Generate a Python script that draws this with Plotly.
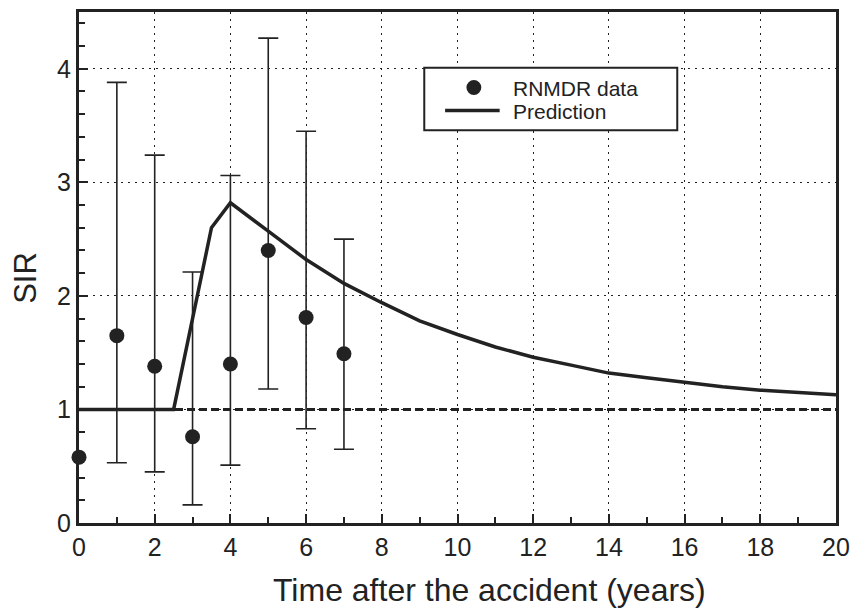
import plotly.graph_objects as go

# Data
years = [0, 1, 2, 3, 4, 5, 6, 7]
sir = [0.58, 1.65, 1.38, 0.76, 1.40, 2.40, 1.81, 1.49]
# confidence limits (no bar for year 0)
err_years = [1, 2, 3, 4, 5, 6, 7]
err_sir = [1.65, 1.38, 0.76, 1.40, 2.40, 1.81, 1.49]
upper = [3.88, 3.24, 2.21, 3.06, 4.27, 3.45, 2.50]
lower = [0.53, 0.45, 0.16, 0.51, 1.18, 0.83, 0.65]

pred_x = [0, 2.5, 3.5, 4, 5, 6, 7, 8, 9, 10, 11, 12, 13, 14, 15, 16, 17, 18, 19, 20]
pred_y = [1.0, 1.0, 2.6, 2.82, 2.57, 2.32, 2.11, 1.94, 1.78, 1.66, 1.55, 1.46, 1.39, 1.32,
          1.28, 1.24, 1.20, 1.17, 1.15, 1.13]

ref_x = [0, 20]
ref_y = [1.0, 1.0]

legend_labels = ["RNMDR data", "Prediction"]

err_plus = [u - v for u, v in zip(upper, err_sir)]
err_minus = [v - l for l, v in zip(lower, err_sir)]

ink = "#222222"
font = "Liberation Sans, Arial, sans-serif"

# plot area in pixels (for placing layout decorations)
W, H = 859, 608
L, R, T, B = 79, 17, 9, 85
PW, PH = W - L - R, H - T - B


def px(x):
    return (x - L) / PW


def py(y):
    return (H - B - y) / PH


fig = go.Figure()
fig.add_trace(go.Scatter(
    x=ref_x, y=ref_y, mode="lines", showlegend=False,
    line=dict(color=ink, width=3, dash="8px,4px"), hoverinfo="skip"))
fig.add_trace(go.Scatter(
    x=err_years, y=err_sir, mode="markers", showlegend=False,
    marker=dict(color=ink, size=15, opacity=0), hoverinfo="skip",
    error_y=dict(type="data", symmetric=False, array=err_plus, arrayminus=err_minus,
                 color=ink, thickness=1.6, width=10)))
fig.add_trace(go.Scatter(
    x=pred_x, y=pred_y, mode="lines", name=legend_labels[1], showlegend=False,
    line=dict(color=ink, width=3.5)))
fig.add_trace(go.Scatter(
    x=years, y=sir, mode="markers", name=legend_labels[0], cliponaxis=False, showlegend=False,
    marker=dict(color=ink, size=15)))

axis_common = dict(
    showline=True, linecolor=ink, linewidth=3, mirror=True,
    ticks="inside", ticklen=9, tickwidth=2, tickcolor=ink,
    showgrid=True, gridcolor=ink, gridwidth=1.3, griddash="2px,5px",
    zeroline=False,
    tickfont=dict(family=font, size=25, color=ink),
)

# legend drawn as layout decoration (box, symbol samples, labels)
shapes = [
    dict(type="rect", xref="paper", yref="paper",
         x0=px(427), x1=px(682), y0=py(128), y1=py(65),
         line=dict(color=ink, width=2), fillcolor="white", layer="above"),
    dict(type="circle", xref="paper", yref="paper",
         x0=px(469.5), x1=px(484.5), y0=py(92.5), y1=py(77.5),
         line=dict(color=ink, width=0), fillcolor=ink, layer="above"),
    dict(type="line", xref="paper", yref="paper",
         x0=px(448), x1=px(503), y0=py(108), y1=py(108),
         line=dict(color=ink, width=3.5), layer="above"),
]

annotations = [
    dict(text="Time after the accident (years)", xref="paper", yref="paper",
         x=px(493), y=py(590), xanchor="center", yanchor="middle",
         showarrow=False, font=dict(family=font, size=32, color=ink)),
    dict(text="SIR", xref="paper", yref="paper", textangle=-90,
         x=px(25), y=py(276), xanchor="center", yanchor="middle",
         showarrow=False, font=dict(family=font, size=31, color=ink)),
    dict(text=legend_labels[0], xref="paper", yref="paper",
         x=px(514), y=py(86), xanchor="left", yanchor="middle",
         showarrow=False, font=dict(family=font, size=21, color=ink)),
    dict(text=legend_labels[1], xref="paper", yref="paper",
         x=px(514), y=py(109), xanchor="left", yanchor="middle",
         showarrow=False, font=dict(family=font, size=21, color=ink)),
]

fig.update_layout(
    width=W, height=H,
    margin=dict(l=L, r=R, t=T, b=B),
    paper_bgcolor="white", plot_bgcolor="white",
    font=dict(family=font, color=ink),
    showlegend=False,
    xaxis=dict(range=[0, 20], dtick=2, tick0=0,
               minor=dict(dtick=1, ticks="inside", ticklen=6, tickwidth=2, tickcolor=ink, showgrid=False),
               **axis_common),
    yaxis=dict(range=[0, 4.5], dtick=1, tick0=0,
               minor=dict(dtick=0.2, ticks="inside", ticklen=6, tickwidth=2, tickcolor=ink, showgrid=False),
               **axis_common),
    shapes=shapes,
    annotations=annotations,
)

fig.write_html("out.html")
